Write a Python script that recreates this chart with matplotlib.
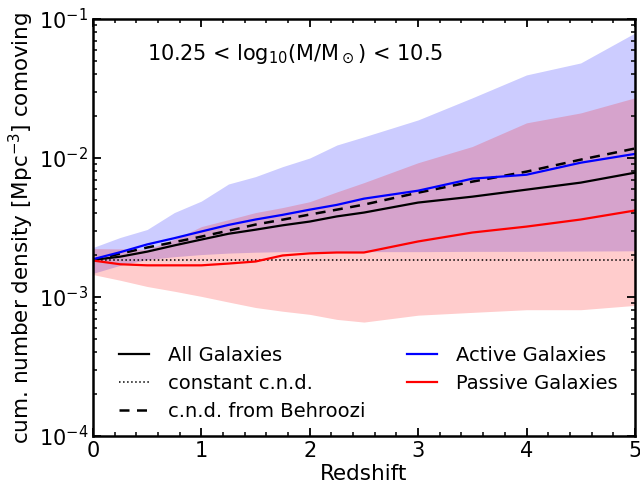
import numpy as np
import matplotlib
matplotlib.use('Agg')
import matplotlib.pyplot as plt
from matplotlib.ticker import MultipleLocator

plt.rcParams['mathtext.default'] = 'regular'

# redshift grid
z = [0, 0.25, 0.5, 0.75, 1.0, 1.25, 1.5, 1.75, 2.0, 2.25, 2.5, 3.0, 3.5, 4.0, 4.5, 5.0]

# cumulative number densities (Mpc^-3 comoving)
all_gal = [1.85e-3, 1.95e-3, 2.12e-3, 2.35e-3, 2.59e-3, 2.85e-3, 3.05e-3, 3.28e-3,
           3.49e-3, 3.80e-3, 4.05e-3, 4.78e-3, 5.27e-3, 5.92e-3, 6.65e-3, 7.84e-3]
active = [1.87e-3, 2.10e-3, 2.39e-3, 2.65e-3, 2.96e-3, 3.30e-3, 3.61e-3, 3.90e-3,
          4.25e-3, 4.60e-3, 5.10e-3, 5.82e-3, 7.10e-3, 7.58e-3, 9.25e-3, 1.07e-2]
passive = [1.83e-3, 1.72e-3, 1.69e-3, 1.69e-3, 1.69e-3, 1.74e-3, 1.80e-3, 1.99e-3,
           2.06e-3, 2.09e-3, 2.09e-3, 2.51e-3, 2.91e-3, 3.21e-3, 3.61e-3, 4.19e-3]
behroozi = [1.85e-3, 2.05e-3, 2.27e-3, 2.48e-3, 2.72e-3, 3.00e-3, 3.32e-3, 3.60e-3,
            3.92e-3, 4.25e-3, 4.62e-3, 5.63e-3, 6.76e-3, 7.98e-3, 9.73e-3, 1.17e-2]
cnd_const = 1.86e-3

# scatter bands
active_hi = [2.27e-3, 2.68e-3, 3.06e-3, 4.05e-3, 4.90e-3, 6.50e-3, 7.35e-3, 8.67e-3,
             1.00e-2, 1.24e-2, 1.42e-2, 1.88e-2, 2.71e-2, 3.96e-2, 4.83e-2, 7.93e-2]
active_lo = [1.48e-3, 1.69e-3, 1.86e-3, 1.95e-3, 2.02e-3, 2.07e-3, 2.10e-3, 2.12e-3,
             2.12e-3, 2.12e-3, 2.12e-3, 2.12e-3, 2.13e-3, 2.13e-3, 2.14e-3, 2.15e-3]
passive_hi = [2.23e-3, 2.22e-3, 2.20e-3, 2.60e-3, 3.21e-3, 3.60e-3, 4.05e-3, 4.40e-3,
              4.85e-3, 5.70e-3, 6.65e-3, 9.25e-3, 1.21e-2, 1.79e-2, 2.11e-2, 2.71e-2]
passive_lo = [1.45e-3, 1.32e-3, 1.19e-3, 1.10e-3, 1.01e-3, 9.2e-4, 8.4e-4, 7.9e-4,
              7.5e-4, 6.9e-4, 6.6e-4, 7.4e-4, 7.75e-4, 8.1e-4, 8.1e-4, 8.7e-4]


fig = plt.figure(figsize=(6.4, 4.95), dpi=100)
ax = fig.add_axes([0.1453, 0.1192, 0.8467, 0.8424])

ax.fill_between(z, active_lo, active_hi, color='blue', alpha=0.2, lw=0)
ax.fill_between(z, passive_lo, passive_hi, color='red', alpha=0.2, lw=0)

l_all, = ax.plot(z, all_gal, color='k', lw=1.6)
l_const, = ax.plot([z[0], z[-1]], [cnd_const, cnd_const], 'k:', lw=1.1)
l_beh, = ax.plot(z, behroozi, 'k--', lw=1.8, dashes=(4, 3))
l_act, = ax.plot(z, active, color='blue', lw=1.6)
l_pas, = ax.plot(z, passive, color='red', lw=1.6)

ax.set_yscale('log')
ax.set_xlim(0, 5)
ax.set_ylim(1e-4, 1e-1)
ax.xaxis.set_major_locator(MultipleLocator(1))
ax.xaxis.set_minor_locator(MultipleLocator(0.2))
ax.tick_params(which='both', direction='in', top=True, right=True, labelsize=15)
ax.tick_params(which='major', length=6, width=1.3)
ax.tick_params(which='minor', length=3, width=1.1)
for s in ax.spines.values():
    s.set_linewidth(1.8)

ax.set_xlabel('Redshift', fontsize=15.5, labelpad=2)
ax.set_ylabel('cum. number density [Mpc$^{-3}$] comoving', fontsize=15.5, labelpad=2)

ax.text(0.1, 0.915, r'10.25 < log$_{10}$(M/M$_\odot$) < 10.5', transform=ax.transAxes,
        fontsize=15, va='center')

ax.legend([l_all, l_const, l_beh, l_act, l_pas],
          ['All Galaxies', 'constant c.n.d.', 'c.n.d. from Behroozi',
           'Active Galaxies', 'Passive Galaxies'],
          ncol=2, frameon=False, fontsize=14, loc='lower left',
          bbox_to_anchor=(0.015, -0.005), handlelength=1.55, handletextpad=1.0,
          columnspacing=2.1, labelspacing=0.45)

fig.savefig('out.png', dpi=100)
